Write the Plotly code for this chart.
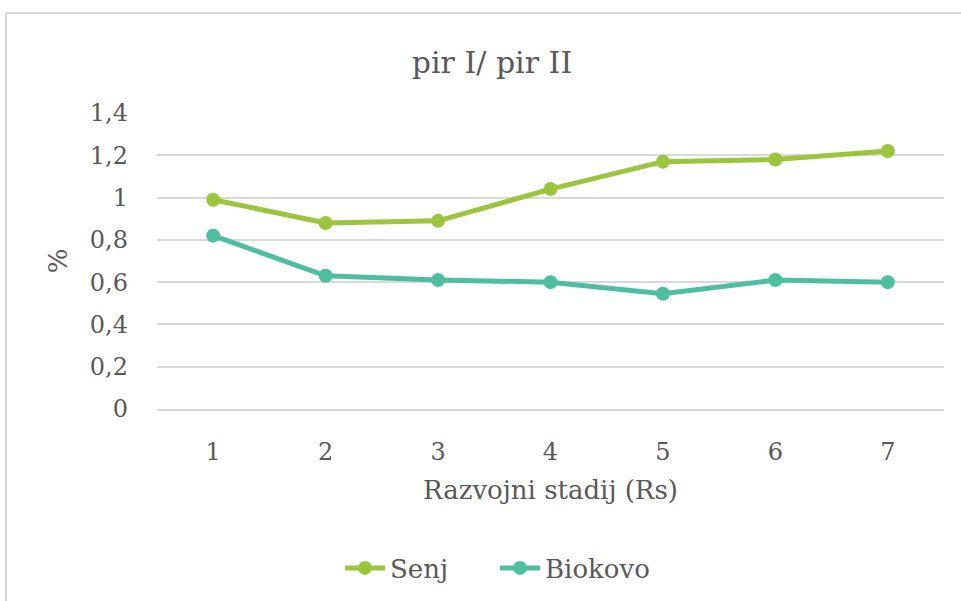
import plotly.graph_objects as go

categories = ["1", "2", "3", "4", "5", "6", "7"]
senj = [0.99, 0.88, 0.89, 1.04, 1.17, 1.18, 1.22]
biokovo = [0.82, 0.63, 0.61, 0.60, 0.545, 0.61, 0.60]
y_tickvals = [0, 0.2, 0.4, 0.6, 0.8, 1.0, 1.2, 1.4]
y_ticktext = ["0", "0,2", "0,4", "0,6", "0,8", "1", "1,2", "1,4"]

W, H = 961, 601
L, R, T, B = 157, 944, 113, 409.3
FONT = "DejaVu Serif"
TXT = "#595959"

def px_x(p):
    return (p - L) / (R - L)

def px_y(p):
    return (B - p) / (B - T)

fig = go.Figure()
fig.add_trace(go.Scatter(x=categories, y=senj, name="Senj", mode="lines+markers",
                         line=dict(color="#9BC53D", width=5),
                         marker=dict(size=14, color="#9BC53D")))
fig.add_trace(go.Scatter(x=categories, y=biokovo, name="Biokovo", mode="lines+markers",
                         line=dict(color="#4DBFA0", width=5),
                         marker=dict(size=14, color="#4DBFA0")))

fig.update_layout(
    width=W, height=H,
    margin=dict(l=L, r=W - R, t=T, b=H - B, autoexpand=False),
    paper_bgcolor="white", plot_bgcolor="white",
    font=dict(family=FONT, color=TXT, size=24),
    title=dict(text="pir I/ pir II", x=492 / W, xref="container", xanchor="center",
               y=1 - 62 / H, yref="container", yanchor="middle",
               font=dict(family=FONT, size=30, color=TXT)),
    showlegend=True,
    legend=dict(orientation="h", x=340 / W, xref="container", xanchor="left",
                y=1 - 568 / H, yref="container", yanchor="middle",
                font=dict(family=FONT, size=26, color=TXT),
                itemwidth=40, tracegroupgap=0,
                entrywidth=100, entrywidthmode="pixels"),
    xaxis=dict(type="category", range=[-0.5, 6.5], showgrid=False, zeroline=False,
               showline=True, linecolor="#d9d9d9", linewidth=1.5,
               ticks="", ticklabelstandoff=20,
               tickfont=dict(family=FONT, size=24, color=TXT),
               title=dict(text="Razvojni stadij (Rs)", standoff=16,
                          font=dict(family=FONT, size=26, color=TXT))),
    yaxis=dict(range=[0, 1.4], tickvals=y_tickvals, ticktext=y_ticktext,
               showgrid=True, gridcolor="#d9d9d9", gridwidth=1.5, zeroline=False,
               ticks="", ticklabelstandoff=28,
               tickfont=dict(family=FONT, size=24, color=TXT),
               title=dict(text="%", standoff=14,
                          font=dict(family=FONT, size=26, color=TXT))),
    shapes=[
        dict(type="line", xref="paper", yref="paper",
             x0=px_x(6), x1=px_x(W + 5), y0=px_y(13), y1=px_y(13),
             line=dict(color="#d9d9d9", width=2)),
        dict(type="line", xref="paper", yref="paper",
             x0=px_x(6), x1=px_x(6), y0=px_y(13), y1=px_y(H + 5),
             line=dict(color="#d9d9d9", width=2)),
    ],
)

fig.write_html("out.html", config={"displayModeBar": False},
               post_script="document.body.style.margin='0px';")
